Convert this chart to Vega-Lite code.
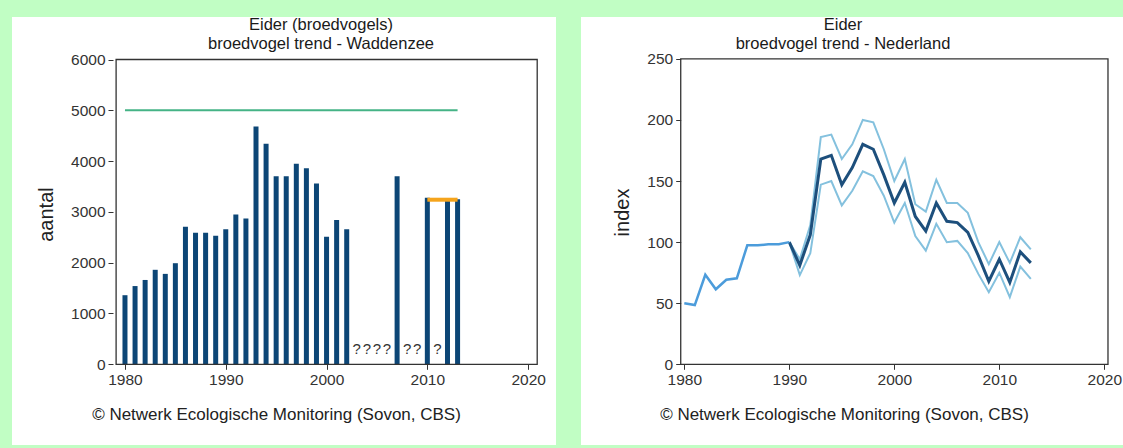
{
  "$schema": "https://vega.github.io/schema/vega-lite/v6.json",
  "background": "#c1fec4",
  "padding": {"left": 12, "top": 16, "right": 0, "bottom": 4},
  "spacing": 25,
  "config": {
    "font": "Liberation Sans",
    "view": {"stroke": null, "fill": "white"},
    "axis": {
      "domain": false,
      "grid": false,
      "tickSize": 5,
      "tickColor": "#333333",
      "tickWidth": 1,
      "labelFont": "Liberation Sans",
      "labelFontSize": 15.5,
      "labelColor": "#333333",
      "titleFont": "Liberation Sans",
      "titleFontWeight": "normal",
      "titleColor": "#222222"
    },
    "title": {
      "font": "Liberation Sans",
      "fontSize": 16.5,
      "fontWeight": "normal",
      "color": "#1a1a1a",
      "lineHeight": 19
    }
  },
  "datasets": {
    "waddenzee": [
      {"jaar": 1980, "aantal": 1360},
      {"jaar": 1981, "aantal": 1540},
      {"jaar": 1982, "aantal": 1660},
      {"jaar": 1983, "aantal": 1860},
      {"jaar": 1984, "aantal": 1780},
      {"jaar": 1985, "aantal": 1990},
      {"jaar": 1986, "aantal": 2710},
      {"jaar": 1987, "aantal": 2590},
      {"jaar": 1988, "aantal": 2590},
      {"jaar": 1989, "aantal": 2530},
      {"jaar": 1990, "aantal": 2660},
      {"jaar": 1991, "aantal": 2950},
      {"jaar": 1992, "aantal": 2870},
      {"jaar": 1993, "aantal": 4680},
      {"jaar": 1994, "aantal": 4340},
      {"jaar": 1995, "aantal": 3700},
      {"jaar": 1996, "aantal": 3700},
      {"jaar": 1997, "aantal": 3950},
      {"jaar": 1998, "aantal": 3860},
      {"jaar": 1999, "aantal": 3560},
      {"jaar": 2000, "aantal": 2510},
      {"jaar": 2001, "aantal": 2840},
      {"jaar": 2002, "aantal": 2660},
      {"jaar": 2007, "aantal": 3700},
      {"jaar": 2010, "aantal": 3280},
      {"jaar": 2012, "aantal": 3215},
      {"jaar": 2013, "aantal": 3250}
    ],
    "onbekend": [
      {"jaar": 2003, "teken": "?"},
      {"jaar": 2004, "teken": "?"},
      {"jaar": 2005, "teken": "?"},
      {"jaar": 2006, "teken": "?"},
      {"jaar": 2008, "teken": "?"},
      {"jaar": 2009, "teken": "?"},
      {"jaar": 2011, "teken": "?"}
    ],
    "doel": [{"van": 1980, "tot": 2013, "aantal": 5000}],
    "recent": [{"van": 2010, "tot": 2013, "aantal": 3240}],
    "nederland": [
      {"jaar": 1980, "reeks": "voor1990", "waarde": 50},
      {"jaar": 1981, "reeks": "voor1990", "waarde": 48.5},
      {"jaar": 1982, "reeks": "voor1990", "waarde": 73.3},
      {"jaar": 1983, "reeks": "voor1990", "waarde": 61.4},
      {"jaar": 1984, "reeks": "voor1990", "waarde": 69.2},
      {"jaar": 1985, "reeks": "voor1990", "waarde": 70.4},
      {"jaar": 1986, "reeks": "voor1990", "waarde": 97.4},
      {"jaar": 1987, "reeks": "voor1990", "waarde": 97.4},
      {"jaar": 1988, "reeks": "voor1990", "waarde": 98.2},
      {"jaar": 1989, "reeks": "voor1990", "waarde": 98.2},
      {"jaar": 1990, "reeks": "voor1990", "waarde": 100},

      {"jaar": 1990, "reeks": "index", "waarde": 100},
      {"jaar": 1991, "reeks": "index", "waarde": 81},
      {"jaar": 1992, "reeks": "index", "waarde": 106},
      {"jaar": 1993, "reeks": "index", "waarde": 168},
      {"jaar": 1994, "reeks": "index", "waarde": 171},
      {"jaar": 1995, "reeks": "index", "waarde": 147},
      {"jaar": 1996, "reeks": "index", "waarde": 161},
      {"jaar": 1997, "reeks": "index", "waarde": 180},
      {"jaar": 1998, "reeks": "index", "waarde": 176},
      {"jaar": 1999, "reeks": "index", "waarde": 155},
      {"jaar": 2000, "reeks": "index", "waarde": 132},
      {"jaar": 2001, "reeks": "index", "waarde": 149},
      {"jaar": 2002, "reeks": "index", "waarde": 121},
      {"jaar": 2003, "reeks": "index", "waarde": 109},
      {"jaar": 2004, "reeks": "index", "waarde": 132},
      {"jaar": 2005, "reeks": "index", "waarde": 117},
      {"jaar": 2006, "reeks": "index", "waarde": 116},
      {"jaar": 2007, "reeks": "index", "waarde": 108},
      {"jaar": 2008, "reeks": "index", "waarde": 89},
      {"jaar": 2009, "reeks": "index", "waarde": 68},
      {"jaar": 2010, "reeks": "index", "waarde": 86},
      {"jaar": 2011, "reeks": "index", "waarde": 67},
      {"jaar": 2012, "reeks": "index", "waarde": 92},
      {"jaar": 2013, "reeks": "index", "waarde": 83},

      {"jaar": 1990, "reeks": "boven", "waarde": 100},
      {"jaar": 1991, "reeks": "boven", "waarde": 86},
      {"jaar": 1992, "reeks": "boven", "waarde": 114},
      {"jaar": 1993, "reeks": "boven", "waarde": 186},
      {"jaar": 1994, "reeks": "boven", "waarde": 188},
      {"jaar": 1995, "reeks": "boven", "waarde": 168},
      {"jaar": 1996, "reeks": "boven", "waarde": 180},
      {"jaar": 1997, "reeks": "boven", "waarde": 200},
      {"jaar": 1998, "reeks": "boven", "waarde": 198},
      {"jaar": 1999, "reeks": "boven", "waarde": 176},
      {"jaar": 2000, "reeks": "boven", "waarde": 150},
      {"jaar": 2001, "reeks": "boven", "waarde": 168},
      {"jaar": 2002, "reeks": "boven", "waarde": 131},
      {"jaar": 2003, "reeks": "boven", "waarde": 125},
      {"jaar": 2004, "reeks": "boven", "waarde": 151},
      {"jaar": 2005, "reeks": "boven", "waarde": 132},
      {"jaar": 2006, "reeks": "boven", "waarde": 132},
      {"jaar": 2007, "reeks": "boven", "waarde": 124},
      {"jaar": 2008, "reeks": "boven", "waarde": 100},
      {"jaar": 2009, "reeks": "boven", "waarde": 82},
      {"jaar": 2010, "reeks": "boven", "waarde": 100},
      {"jaar": 2011, "reeks": "boven", "waarde": 83},
      {"jaar": 2012, "reeks": "boven", "waarde": 104},
      {"jaar": 2013, "reeks": "boven", "waarde": 94},

      {"jaar": 1990, "reeks": "onder", "waarde": 100},
      {"jaar": 1991, "reeks": "onder", "waarde": 73},
      {"jaar": 1992, "reeks": "onder", "waarde": 91},
      {"jaar": 1993, "reeks": "onder", "waarde": 147},
      {"jaar": 1994, "reeks": "onder", "waarde": 150},
      {"jaar": 1995, "reeks": "onder", "waarde": 130},
      {"jaar": 1996, "reeks": "onder", "waarde": 142},
      {"jaar": 1997, "reeks": "onder", "waarde": 158},
      {"jaar": 1998, "reeks": "onder", "waarde": 154},
      {"jaar": 1999, "reeks": "onder", "waarde": 138},
      {"jaar": 2000, "reeks": "onder", "waarde": 116},
      {"jaar": 2001, "reeks": "onder", "waarde": 132},
      {"jaar": 2002, "reeks": "onder", "waarde": 105},
      {"jaar": 2003, "reeks": "onder", "waarde": 93},
      {"jaar": 2004, "reeks": "onder", "waarde": 115},
      {"jaar": 2005, "reeks": "onder", "waarde": 100},
      {"jaar": 2006, "reeks": "onder", "waarde": 101},
      {"jaar": 2007, "reeks": "onder", "waarde": 91},
      {"jaar": 2008, "reeks": "onder", "waarde": 74},
      {"jaar": 2009, "reeks": "onder", "waarde": 59},
      {"jaar": 2010, "reeks": "onder", "waarde": 75},
      {"jaar": 2011, "reeks": "onder", "waarde": 55},
      {"jaar": 2012, "reeks": "onder", "waarde": 80},
      {"jaar": 2013, "reeks": "onder", "waarde": 70}
    ]
  },
  "hconcat": [
    {
      "width": 544,
      "height": 428,
      "title": {
        "text": ["Eider (broedvogels)", "broedvogel trend - Waddenzee"],
        "anchor": "middle",
        "frame": "group",
        "offset": -35,
        "dx": 37
      },
      "layer": [
        {
          "data": {"name": "waddenzee"},
          "mark": {"type": "bar", "orient": "vertical", "size": 5, "color": "#0c4676"},
          "encoding": {
            "x": {
              "field": "jaar",
              "type": "quantitative",
              "scale": {"domain": [1969.287, 2022.269], "nice": false, "zero": false},
              "axis": {
                "values": [1980, 1990, 2000, 2010, 2020],
                "format": "d",
                "offset": -80.7,
                "labelPadding": 3.5,
                "title": "© Netwerk Ecologische Monitoring (Sovon, CBS)",
                "titleFontSize": 17,
                "titleX": 264,
                "titleY": 50,
                "titleAlign": "center",
                "titleBaseline": "middle"
              }
            },
            "y": {
              "field": "aantal",
              "type": "quantitative",
              "scale": {"domain": [-1589, 6837], "nice": false, "zero": false},
              "axis": {
                "values": [0, 1000, 2000, 3000, 4000, 5000, 6000],
                "format": "d",
                "offset": -101,
                "labelPadding": 3,
                "title": "aantal",
                "titleFontSize": 20,
                "titleX": -67,
                "titleY": 197,
                "titleAngle": -90,
                "titleAlign": "center",
                "titleBaseline": "middle"
              }
            },
            "y2": {"datum": 0}
          }
        },
        {
          "data": {"name": "doel"},
          "mark": {"type": "rule", "color": "#45b386", "strokeWidth": 2},
          "encoding": {
            "x": {"field": "van", "type": "quantitative"},
            "x2": {"field": "tot"},
            "y": {"field": "aantal", "type": "quantitative"}
          }
        },
        {
          "data": {"name": "recent"},
          "mark": {"type": "rule", "color": "#f5a41c", "strokeWidth": 4},
          "encoding": {
            "x": {"field": "van", "type": "quantitative"},
            "x2": {"field": "tot"},
            "y": {"field": "aantal", "type": "quantitative"}
          }
        },
        {
          "data": {"name": "onbekend"},
          "mark": {"type": "text", "fontSize": 15, "color": "#333333", "baseline": "middle", "align": "center"},
          "encoding": {
            "x": {"field": "jaar", "type": "quantitative"},
            "y": {"datum": 300, "type": "quantitative"},
            "text": {"field": "teken"}
          }
        },
        {
          "data": {"values": [{}]},
          "mark": {"type": "rect", "filled": false, "stroke": "#333333", "strokeWidth": 1.3},
          "encoding": {
            "x": {"datum": 1979.12, "type": "quantitative"},
            "x2": {"datum": 2020.9},
            "y": {"datum": 0, "type": "quantitative"},
            "y2": {"datum": 6000}
          }
        }
      ]
    },
    {
      "width": 542,
      "height": 428,
      "title": {
        "text": ["Eider", "broedvogel trend - Nederland"],
        "anchor": "middle",
        "frame": "group",
        "offset": -35,
        "dx": -9
      },
      "data": {"name": "nederland"},
      "layer": [
        {
          "transform": [{"filter": "datum.reeks === 'onder' || datum.reeks === 'boven'"}],
          "mark": {"type": "line", "color": "#84c1de", "strokeWidth": 2},
          "encoding": {
            "x": {
              "field": "jaar",
              "type": "quantitative",
              "scale": {"domain": [1970.162, 2021.78], "nice": false, "zero": false},
              "axis": {
                "values": [1980, 1990, 2000, 2010, 2020],
                "format": "d",
                "offset": -80.7,
                "labelPadding": 3.5,
                "title": "© Netwerk Ecologische Monitoring (Sovon, CBS)",
                "titleFontSize": 17,
                "titleX": 263,
                "titleY": 50,
                "titleAlign": "center",
                "titleBaseline": "middle"
              }
            },
            "y": {
              "field": "waarde",
              "type": "quantitative",
              "scale": {"domain": [-66.0, 284.2], "nice": false, "zero": false},
              "axis": {
                "values": [0, 50, 100, 150, 200, 250],
                "format": "d",
                "offset": -99.7,
                "labelPadding": 3,
                "title": "index",
                "titleFontSize": 20,
                "titleX": -58.7,
                "titleY": 195,
                "titleAngle": -90,
                "titleAlign": "center",
                "titleBaseline": "middle"
              }
            },
            "detail": {"field": "reeks"}
          }
        },
        {
          "transform": [{"filter": "datum.reeks === 'index'"}],
          "mark": {"type": "line", "color": "#1d4f7c", "strokeWidth": 3},
          "encoding": {
            "x": {"field": "jaar", "type": "quantitative"},
            "y": {"field": "waarde", "type": "quantitative"}
          }
        },
        {
          "transform": [{"filter": "datum.reeks === 'voor1990'"}],
          "mark": {"type": "line", "color": "#4c9cdb", "strokeWidth": 2.5},
          "encoding": {
            "x": {"field": "jaar", "type": "quantitative"},
            "y": {"field": "waarde", "type": "quantitative"}
          }
        },
        {
          "data": {"values": [{}]},
          "mark": {"type": "rect", "filled": false, "stroke": "#333333", "strokeWidth": 1.3},
          "encoding": {
            "x": {"datum": 1979.66, "type": "quantitative"},
            "x2": {"datum": 2020.35},
            "y": {"datum": 0, "type": "quantitative"},
            "y2": {"datum": 250}
          }
        }
      ]
    }
  ]
}
